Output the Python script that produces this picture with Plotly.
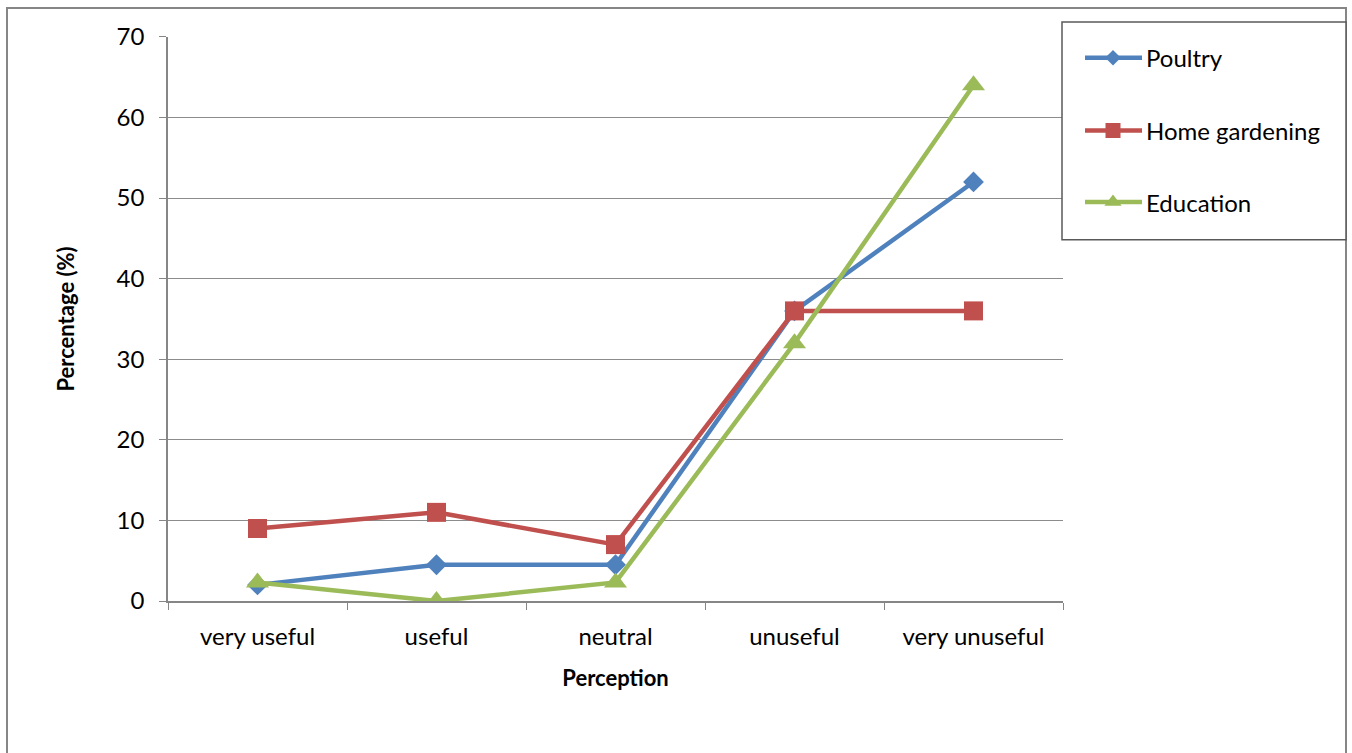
import plotly.graph_objects as go

categories = ["very useful", "useful", "neutral", "unuseful", "very unuseful"]
poultry = [2, 4.5, 4.5, 36, 52]
home_gardening = [9, 11, 7, 36, 36]
education = [2.3, 0, 2.3, 32, 64]
y_ticks = [0, 10, 20, 30, 40, 50, 60, 70]

FONT = "Lato"
W, H = 1352, 753

# pixel layout of the page
PLOT_L, PLOT_R, PLOT_T, PLOT_B = 168, 1063, 34, 601
LEG_L, LEG_R, LEG_T, LEG_B = 1062, 1346, 19, 238
L, R, T, B = PLOT_L, W - LEG_R, LEG_T, H - PLOT_B
pw = W - L - R
ph = H - T - B

def px_x(p):
    return (p - L) / pw

def px_y(p):
    return (H - B - p) / ph

# name, values, colour, symbol, plot marker size, legend marker size
series = [
    ("Poultry", poultry, "#4F81BD", "diamond", 16, 12),
    ("Home gardening", home_gardening, "#C0504D", "square", 19, 15),
    ("Education", education, "#9BBB59", "triangle-up", 20, 15),
]

fig = go.Figure()
for name, vals, color, sym, size, _ in series:
    fig.add_trace(go.Scatter(
        x=categories, y=vals, name=name, mode="lines+markers",
        line=dict(color=color, width=4.5),
        marker=dict(symbol=sym, size=size, color=color),
        xaxis="x", yaxis="y", showlegend=False,
    ))

# legend keys drawn in a small helper axis (pixel offsets inside the box)
leg_w = LEG_R - LEG_L
leg_h = LEG_B - LEG_T
row_y = [36, 109, 181]
for (name, vals, color, sym, _, lsize), ry in zip(series, row_y):
    fig.add_trace(go.Scatter(
        x=[23, 51, 80], y=[ry, ry, ry], mode="lines",
        line=dict(color=color, width=4.5), xaxis="x2", yaxis="y2",
        showlegend=False, hoverinfo="skip",
    ))
    fig.add_trace(go.Scatter(
        x=[51], y=[ry], mode="markers",
        marker=dict(symbol=sym, size=lsize, color=color),
        xaxis="x2", yaxis="y2", showlegend=False, hoverinfo="skip",
    ))
    fig.add_annotation(x=82, y=ry, xref="x2", yref="y2", text=name,
                       showarrow=False, xanchor="left", yanchor="middle",
                       font=dict(family=FONT, size=24, color="black"))

# legend frame
fig.add_shape(type="rect", xref="x2 domain", yref="y2 domain",
              x0=0, x1=1, y0=0, y1=1,
              line=dict(color="#595959", width=1.5), fillcolor="rgba(0,0,0,0)")

# outer chart frame
fig.add_shape(type="rect", xref="paper", yref="paper",
              x0=px_x(7), x1=px_x(1346), y0=px_y(770), y1=px_y(5),
              line=dict(color="#868686", width=2), fillcolor="rgba(0,0,0,0)",
              layer="below")

fig.update_layout(
    width=W, height=H,
    margin=dict(l=L, r=R, t=T, b=B),
    paper_bgcolor="white", plot_bgcolor="white",
    font=dict(family=FONT, size=24, color="black"),
    showlegend=False,
    xaxis=dict(
        domain=[0, px_x(PLOT_R)],
        type="category", range=[-0.5, 4.5],
        showline=True, linecolor="#868686", linewidth=1.5,
        ticks="outside", tickson="boundaries", ticklen=7, tickcolor="#868686",
        showgrid=False, zeroline=False,
        title=dict(text="<b>Perception</b>", font=dict(family=FONT, size=22), standoff=22),
        tickfont=dict(family=FONT, size=24),
        ticklabelstandoff=13,
    ),
    yaxis=dict(
        domain=[0, px_y(PLOT_T)],
        range=[0, 70], tickvals=y_ticks,
        showline=True, linecolor="#868686", linewidth=1.5,
        ticks="outside", ticklen=7, tickcolor="#868686",
        showgrid=True, gridcolor="#8c8c8c", gridwidth=1.2,
        zeroline=False,
        title=dict(text="<b>Percentage (%)</b>", font=dict(family=FONT, size=22), standoff=36),
        tickfont=dict(family=FONT, size=24),
        ticklabelstandoff=10,
    ),
    xaxis2=dict(
        domain=[px_x(LEG_L), px_x(LEG_R)], anchor="y2",
        range=[0, leg_w], visible=False, fixedrange=True,
    ),
    yaxis2=dict(
        domain=[px_y(LEG_B), px_y(LEG_T)], anchor="x2",
        range=[leg_h, 0], visible=False, fixedrange=True,
    ),
)

fig.write_html("out.html")
